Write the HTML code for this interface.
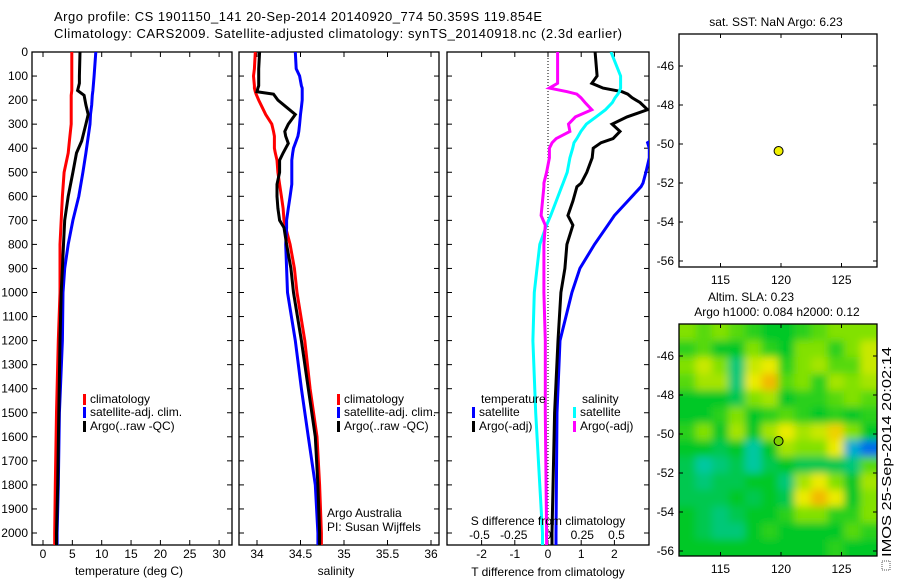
<!DOCTYPE html>
<html><head><meta charset="utf-8"><style>
html,body{margin:0;padding:0;background:#fff;}
svg{display:block;font-family:"Liberation Sans",sans-serif;}
</style></head><body>
<svg id="c" width="900" height="580" viewBox="0 0 900 580" xmlns="http://www.w3.org/2000/svg">
<defs>
<clipPath id="cp1"><rect x="32" y="52" width="200" height="493"/></clipPath>
<clipPath id="cp2"><rect x="239" y="52" width="200" height="493"/></clipPath>
<clipPath id="cp3"><rect x="447" y="52" width="202" height="493"/></clipPath>
<clipPath id="cpm"><rect x="679" y="324" width="198" height="232"/></clipPath>
<filter id="blur" x="-10%" y="-10%" width="120%" height="120%"><feGaussianBlur stdDeviation="4"/></filter>
</defs>
<text x="54" y="21" font-size="13" textLength="488">Argo profile: CS 1901150_141 20-Sep-2014 20140920_774 50.359S 119.854E</text>
<text x="54" y="38" font-size="13" textLength="568">Climatology: CARS2009. Satellite-adjusted climatology: synTS_20140918.nc (2.3d earlier)</text>
<g id="g"></g>
</svg>
<script>
// depth levels (m)
const depthT = [0,100,130,160,180,220,260,300,370,420,500,600,700,800,900,1000,1200,1500,1800,2000,2050];
const tempClim = [4.9,4.9,4.9,4.9,4.8,4.8,4.8,4.8,4.5,4.3,3.6,3.3,3.1,2.9,2.9,2.9,2.6,2.3,2.1,2.0,2.0];
const tempSat  = [9.0,8.7,8.6,8.5,8.4,8.3,8.1,8.0,7.6,7.3,6.8,6.1,5.1,4.3,3.7,3.4,3.3,2.8,2.6,2.4,2.4];
const tempArgo = [6.3,6.2,6.2,5.9,7.0,7.3,7.7,7.3,6.6,5.7,5.1,4.3,3.7,3.5,3.3,3.1,2.9,2.7,2.5,2.3,2.3];
const depthS = [0,70,100,140,150,165,175,200,230,260,300,330,350,380,400,420,450,500,550,600,650,700,730,800,900,1000,1200,1400,1600,1800,2000,2050];
const salClim = [33.98,33.97,33.96,33.97,33.97,33.98,33.99,34.02,34.06,34.10,34.17,34.19,34.20,34.20,34.20,34.21,34.23,34.24,34.26,34.28,34.30,34.31,34.33,34.38,34.43,34.46,34.55,34.61,34.69,34.72,34.74,34.74];
const salSat  = [34.44,34.45,34.49,34.51,34.52,34.52,34.52,34.52,34.51,34.50,34.49,34.48,34.47,34.44,34.42,34.41,34.40,34.40,34.40,34.38,34.36,34.34,34.34,34.33,34.34,34.35,34.44,34.51,34.59,34.67,34.70,34.70];
const salArgo = [34.03,34.02,34.02,34.02,34.01,34.00,34.19,34.24,34.34,34.44,34.36,34.32,34.33,34.36,34.33,34.30,34.26,34.26,34.23,34.23,34.24,34.26,34.31,34.34,34.39,34.42,34.51,34.59,34.67,34.70,34.72,34.72];
const depthD = [0,100,130,150,165,175,190,210,240,270,300,330,360,377,400,440,500,545,560,620,680,720,800,900,1000,1200,1500,2000,2050];
const dTsat  = [3.6,3.6,3.6,3.6,3.6,3.6,3.6,3.6,3.6,3.5,3.4,3.3,3.2,3.0,3.05,3.05,2.95,2.86,2.8,2.4,2.0,1.8,1.4,0.96,0.72,0.36,0.27,0.24,0.24];
const dTargo = [1.42,1.48,1.32,1.66,2.23,2.4,2.53,2.77,3.0,2.38,1.93,2.17,1.96,1.6,1.36,1.33,1.17,1.0,0.87,0.75,0.6,0.75,0.57,0.51,0.39,0.3,0.2,0.12,0.12];
const dSsat  = [0.46,0.53,0.53,0.53,0.52,0.51,0.49,0.47,0.42,0.35,0.28,0.24,0.21,0.19,0.18,0.16,0.14,0.11,0.10,0.06,0.02,-0.01,-0.06,-0.08,-0.1,-0.11,-0.09,-0.04,-0.04];
const dSargo = [0.07,0.07,0.07,0.01,0.14,0.21,0.24,0.27,0.32,0.2,0.15,0.16,0.06,0.03,0.01,0.01,-0.01,-0.03,-0.03,-0.04,-0.05,-0.02,-0.03,-0.03,-0.03,-0.02,-0.02,-0.01,-0.01];
const depthTicks = [0,100,200,300,400,500,600,700,800,900,1000,1100,1200,1300,1400,1500,1600,1700,1800,1900,2000];
const tempTicks = [0,5,10,15,20,25,30];
const salTicks = [34,34.5,35,35.5,36];
const dTTicks = [-2,-1,0,1,2];
const dSTicks = [-0.5,-0.25,0,0.25,0.5];
const lonTicks = [115,120,125];
const latTicks = [-46,-48,-50,-52,-54,-56];
const argoLon = 119.8, argoLat = -50.36;
const slaGrid = [
[0.6,0.55,0.6,0.55,0.5,0.45,0.45,0.5,0.55,0.6,0.6,0.6],
[0.5,0.55,0.45,0.45,0.6,0.5,0.45,0.6,0.6,0.5,0.6,0.7],
[0.6,0.7,0.6,0.35,0.7,0.75,0.5,0.6,0.65,0.55,0.55,0.7],
[0.55,0.65,0.65,0.35,0.75,0.85,0.55,0.6,0.5,0.65,0.6,0.65],
[0.45,0.45,0.45,0.4,0.6,0.65,0.45,0.5,0.5,0.55,0.6,0.55],
[0.45,0.45,0.5,0.6,0.45,0.5,0.55,0.5,0.45,0.5,0.45,0.5],
[0.5,0.6,0.45,0.65,0.45,0.65,0.75,0.65,0.7,0.8,0.6,0.45],
[0.45,0.45,0.4,0.45,0.3,0.45,0.65,0.6,0.6,0.75,0.2,0.1],
[0.4,0.3,0.35,0.4,0.3,0.4,0.45,0.4,0.4,0.4,0.35,0.55],
[0.4,0.35,0.4,0.4,0.45,0.45,0.35,0.65,0.75,0.6,0.45,0.65],
[0.4,0.4,0.4,0.45,0.4,0.45,0.4,0.75,0.85,0.75,0.45,0.6],
[0.45,0.4,0.35,0.4,0.45,0.45,0.5,0.6,0.6,0.5,0.5,0.6],
[0.45,0.4,0.35,0.35,0.45,0.5,0.45,0.45,0.45,0.45,0.55,0.5],
[0.45,0.45,0.45,0.45,0.45,0.45,0.45,0.45,0.45,0.5,0.45,0.45]];

const NS="http://www.w3.org/2000/svg";
const G=document.getElementById('g');
function mk(tag,attrs,parent){const e=document.createElementNS(NS,tag);for(const k in attrs)e.setAttribute(k,attrs[k]);(parent||G).appendChild(e);return e;}
function txt(x,y,s,anchor,size,parent){const t=mk('text',{x:x,y:y,'font-size':size||12,'text-anchor':anchor||'start'},parent);t.textContent=s;return t;}
const yD=d=>52+d*0.2405;
const xT=v=>43+v*5.87;
const xS=v=>257+(v-34)*87;
const xDT=v=>548+v*33.2;
const xDS=v=>548+v*137;
const mapX=lon=>781+(lon-120)*12.1;
const mapY1=lat=>66+(-46-lat)*19.5;
const mapY2=lat=>356+(-46-lat)*19.5;

function frame(x,y,w,h,name){const r=mk('rect',{x:x,y:y,width:w,height:h,fill:'none',stroke:'#000','stroke-width':1.3});}
function depthAxis(x0,x1,labels){
  depthTicks.forEach(d=>{const y=yD(d);
    mk('line',{x1:x0,y1:y,x2:x0+5,y2:y,stroke:'#000'});
    mk('line',{x1:x1,y1:y,x2:x1-5,y2:y,stroke:'#000'});
    if(labels){const t=txt(28,y+4,String(d),'end',12);}
  });
}
function xAxis(vals,fx,ylab,fmt){vals.forEach(v=>{const x=fx(v);
  mk('line',{x1:x,y1:545,x2:x,y2:540,stroke:'#000'});mk('line',{x1:x,y1:52,x2:x,y2:57,stroke:'#000'});
  if(ylab){const t=txt(x,ylab,fmt?fmt(v):String(v),'middle',12);}});}
function line(xs,ds,fx,color,clip,name){const pts=xs.map((v,i)=>fx(v).toFixed(1)+','+yD(ds[i]).toFixed(1)).join(' ');
  const p=mk('polyline',{points:pts,fill:'none',stroke:color,'stroke-width':3,'clip-path':'url(#'+clip+')','stroke-linejoin':'miter'});
  }
function legendEntry(x,y,color,label){const g=mk('g',{});
  mk('rect',{x:x,y:y-9,width:3,height:11,fill:color},g);txt(x+7,y,label,'start',12,g);}

// Panel 1 temperature
frame(32,52,200,493,'temperature-panel');
depthAxis(32,232,true);
xAxis(tempTicks,xT,558);
line(tempClim,depthT,xT,'#ff0000','cp1','temp-climatology-line');
line(tempSat,depthT,xT,'#0000ff','cp1','temp-satellite-line');
line(tempArgo,depthT,xT,'#000000','cp1','temp-argo-line');
legendEntry(83,403,'#ff0000','climatology');legendEntry(83,416,'#0000ff','satellite-adj. clim.');legendEntry(83,430,'#000','Argo(..raw -QC)');
let t=txt(129,575,'temperature (deg C)','middle',12);

// Panel 2 salinity
frame(239,52,200,493,'salinity-panel');
depthAxis(239,439,false);
xAxis(salTicks,xS,558);
line(salClim,depthS,xS,'#ff0000','cp2','sal-climatology-line');
line(salSat,depthS,xS,'#0000ff','cp2','sal-satellite-line');
line(salArgo,depthS,xS,'#000000','cp2','sal-argo-line');
legendEntry(337,403,'#ff0000','climatology');legendEntry(337,416,'#0000ff','satellite-adj. clim.');legendEntry(337,430,'#000','Argo(..raw -QC)');
t=txt(327,517,'Argo Australia','start',12);
t=txt(327,531,'PI: Susan Wijffels','start',12);
t=txt(336,575,'salinity','middle',12);

// Panel 3 differences
frame(447,52,202,493,'difference-panel');
depthAxis(447,649,false);
xAxis(dTTicks,xDT,558);
dSTicks.forEach(v=>{const tt=txt(xDS(v),539,String(v),'middle',12);});
mk('line',{x1:548,y1:52,x2:548,y2:545,stroke:'#000','stroke-dasharray':'1,2'});
line(dTsat,depthD,xDT,'#0000ff','cp3','tdiff-satellite-line');
line(dTargo,depthD,xDT,'#000000','cp3','tdiff-argo-line');
line(dSsat,depthD,xDS,'#00ffff','cp3','sdiff-satellite-line');
line(dSargo,depthD,xDS,'#ff00ff','cp3','sdiff-argo-line');
t=txt(481,403,'temperature','start',12);
t=txt(582,403,'salinity','start',12);
legendEntry(472,416,'#0000ff','satellite');legendEntry(472,430,'#000','Argo(-adj)');
legendEntry(573,416,'#00ffff','satellite');legendEntry(573,430,'#ff00ff','Argo(-adj)');
t=txt(548,525,'S difference from climatology','middle',12);
t=txt(548,576,'T difference from climatology','middle',12);

// Map axes
function mapAxes(top,bottom,fy,withLonLabels){
  lonTicks.forEach(l=>{const x=mapX(l);mk('line',{x1:x,y1:bottom,x2:x,y2:bottom-4,stroke:'#000'});mk('line',{x1:x,y1:top,x2:x,y2:top+4,stroke:'#000'});
    if(withLonLabels){const tt=txt(x,bottom+17,String(l),'middle',12);}});
  latTicks.forEach(l=>{const y=fy(l);if(y<top||y>bottom)return;mk('line',{x1:679,y1:y,x2:683,y2:y,stroke:'#000'});mk('line',{x1:877,y1:y,x2:873,y2:y,stroke:'#000'});
    const tt=txt(674,y+4,String(l),'end',12);});
}
t=txt(776,26,'sat. SST: NaN Argo: 6.23','middle',12);
frame(679,34,198,233,'sst-map');
mapAxes(34,267,mapY1,true);
let c=mk('circle',{cx:mapX(argoLon),cy:mapY1(argoLat),r:4.5,fill:'#f0f000',stroke:'#000','stroke-width':1});


t=txt(751,301,'Altim. SLA: 0.23','middle',12);
t=txt(777,316,'Argo h1000: 0.084 h2000: 0.12','middle',12);

// SLA heatmap
function cmap(v){const stops=[[0,[0,50,255]],[0.25,[0,200,200]],[0.45,[0,200,40]],[0.6,[130,225,0]],[0.75,[235,235,0]],[0.9,[245,160,0]],[1,[240,80,0]]];
  for(let i=1;i<stops.length;i++){if(v<=stops[i][0]){const a=stops[i-1],b=stops[i],f=(v-a[0])/(b[0]-a[0]);return 'rgb('+a[1].map((c,k)=>Math.round(c+(b[1][k]-c)*f)).join(',')+')';}}return 'rgb(240,80,0)';}
const hm=mk('g',{'clip-path':'url(#cpm)'});
mk('rect',{x:679,y:324,width:198,height:232,fill:cmap(0.45)},hm);
const hb=mk('g',{filter:'url(#blur)'},hm);
const rows=slaGrid.length,cols=slaGrid[0].length,cw=198/cols,ch=232/rows;
slaGrid.forEach((row,r)=>row.forEach((v,k)=>{
  const x0=679+k*cw-(k==0?10:0),y0=324+r*ch-(r==0?10:0);
  const w=cw+0.6+(k==0?10:0)+(k==cols-1?10:0),h=ch+0.6+(r==0?10:0)+(r==rows-1?10:0);
  const cell=mk('rect',{x:x0,y:y0,width:w,height:h,fill:cmap(v)},hb);
  
  
}));
frame(679,324,198,232,'sla-map');
mapAxes(324,556,mapY2,true);
c=mk('circle',{cx:mapX(argoLon),cy:mapY2(argoLat),r:4.5,fill:'#80d000',stroke:'#000','stroke-width':1});


// rotated timestamp
t=mk('text',{x:0,y:0,'font-size':13,textLength:210,lengthAdjust:'spacingAndGlyphs',transform:'translate(891,557) rotate(-90)'});
t.textContent='IMOS 25-Sep-2014 20:02:14';

mk('rect',{x:882,y:561,width:8,height:9,fill:'none',stroke:'#555','stroke-dasharray':'1,1'});
</script>
</body></html>
